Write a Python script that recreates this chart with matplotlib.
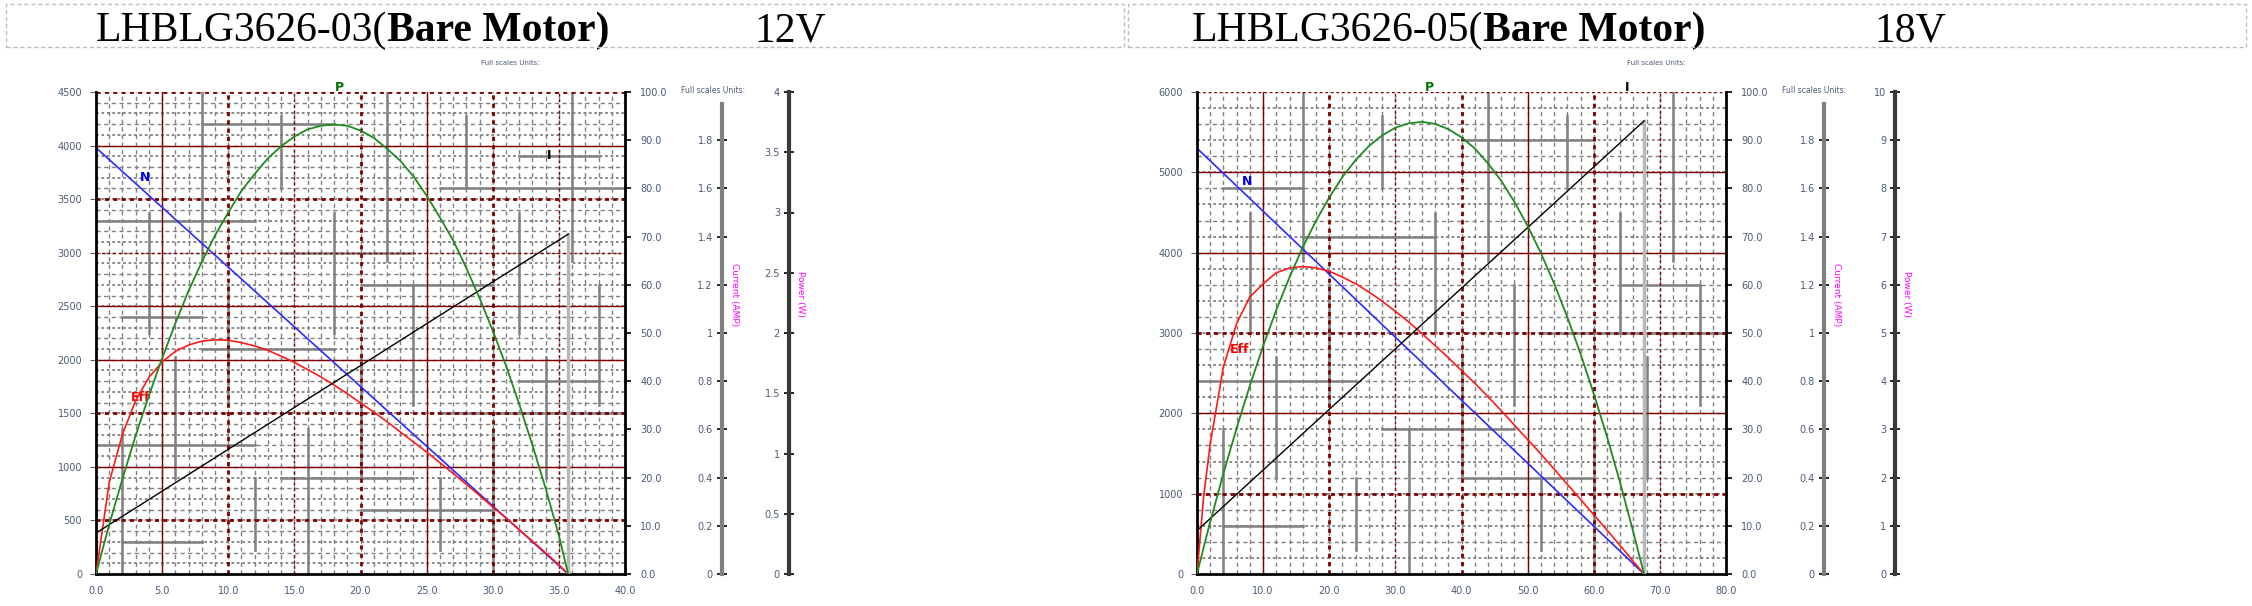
import matplotlib
matplotlib.use("Agg")
import matplotlib.pyplot as plt
import numpy as np
from matplotlib.patches import Rectangle
from matplotlib.ticker import FormatStrFormatter, FuncFormatter

W, H = 2252, 606

# LHBLG3626-03, 12 V  (torque in mN.m)
TORQUE_12 = [0, 1, 2, 3, 4, 5, 6, 7, 8, 9, 10, 11, 12, 13, 14, 15, 16, 17, 18, 19, 20,
             21, 22, 23, 24, 25, 26, 27, 28, 29, 30, 31, 32, 33, 34, 35, 35.7]
POWER_12 = [0, 0.41, 0.79, 1.15, 1.48, 1.79, 2.08, 2.35, 2.59, 2.81, 3.00, 3.18, 3.32, 3.45,
            3.55, 3.63, 3.69, 3.72, 3.73, 3.72, 3.68, 3.62, 3.53, 3.43, 3.30, 3.14, 2.96,
            2.77, 2.54, 2.29, 2.02, 1.73, 1.41, 1.07, 0.71, 0.32, 0]
EFF_12 = [0, 19, 29, 36, 40.8, 44, 46.2, 47.5, 48.3, 48.6, 48.5, 48.0, 47.3, 46.4, 45.2, 43.9,
          42.4, 40.9, 39.2, 37.4, 35.5, 33.6, 31.6, 29.5, 27.4, 25.3, 23.1, 20.9, 18.6, 16.3,
          13.9, 11.6, 9.2, 6.8, 4.4, 1.9, 0]
LINE_TORQUE_12 = [0, 35.7]
SPEED_12 = [3980, 0]
CURRENT_12 = [0.17, 1.41]

# LHBLG3626-05, 18 V
TORQUE_18 = [0, 1, 2, 4, 6, 8, 10, 12, 14, 16, 18, 20, 22, 24, 26, 28, 30, 32, 34, 36, 38,
             40, 42, 44, 46, 48, 50, 52, 54, 56, 58, 60, 62, 64, 66, 67.6]
POWER_18 = [0, 0.55, 1.08, 2.09, 3.03, 3.91, 4.73, 5.48, 6.16, 6.78, 7.33, 7.81, 8.24, 8.59,
            8.88, 9.10, 9.26, 9.35, 9.38, 9.34, 9.23, 9.06, 8.83, 8.52, 8.16, 7.72, 7.22,
            6.66, 6.03, 5.33, 4.57, 3.74, 2.85, 1.89, 0.86, 0]
EFF_18 = [0, 16, 27, 43, 52, 57.5, 60.2, 62.5, 63.5, 63.8, 63.5, 62.8, 61.6, 60.2, 58.5, 56.6,
          54.5, 52.3, 49.9, 47.4, 44.9, 42.2, 39.6, 36.8, 33.9, 30.9, 27.9, 24.9, 21.8, 18.6,
          15.5, 12.3, 9.1, 5.9, 2.6, 0]
LINE_TORQUE_18 = [0, 67.6]
SPEED_18 = [5300, 0]
CURRENT_18 = [0.18, 1.88]

LBL = "#4a5a78"
GRID_MINOR = "#808080"
GRID_MAJOR = "#800000"

# short solid grey strokes that give the grid its plaid look
SPANS = [(0.0, 0.3), (0.5, 0.75), (0.2, 0.45), (0.65, 1.0), (0.35, 0.6), (0.05, 0.2), (0.8, 0.95)]
MAJOR_STYLES = [(2.0, (0, (1.5, 1.5))), (1.0, "-"), (2.0, (0, (1.5, 1.5))), (1.0, (0, (2, 2)))]


def fx(p):
    return p / W


def fy(p):
    return 1 - p / H


def title_box(fig, ax, x0, x1, model, volts, tx, vx):
    fig.patches.append(Rectangle((fx(x0), fy(47)), fx(x1 - x0), 43 / H, transform=fig.transFigure,
                                 fill=False, ec="#bdbdbd", lw=1.0, ls=(0, (3, 2))))
    t1 = fig.text(fx(tx), fy(50), model + "(", family="Liberation Serif", fontsize=30,
                  va="bottom", ha="left")
    ax.annotate("Bare Motor)", xy=(1, 0), xycoords=t1, va="bottom", ha="left",
                family="Liberation Serif", fontsize=30, fontweight="bold", annotation_clip=False)
    fig.text(fx(vx), fy(50), volts, family="Liberation Serif", fontsize=30, va="bottom", ha="left")


def draw_grid(ax, xmax, xmaj, xmin, nmax, nmaj, nmin):
    xs = np.arange(xmin, xmax, xmin)
    ys = np.arange(nmin, nmax, nmin)
    for i, x in enumerate(xs):
        ax.axvline(x, color=GRID_MINOR, lw=1.0, ls=(0, (3, 2.5)), zorder=0.4)
        if i % 2:
            a, b = SPANS[(i // 2) % len(SPANS)]
            ax.axvline(x, ymin=a, ymax=b, color=GRID_MINOR, lw=1.8, zorder=0.45)
    for i, y in enumerate(ys):
        if i % 2:
            ax.axhline(y, color=GRID_MINOR, lw=1.0, ls=(0, (3, 2.5)), zorder=0.4)
        else:
            ax.axhline(y, color=GRID_MINOR, lw=1.3, ls=(0, (1.5, 1.5)), zorder=0.4)
        if i % 3 == 2:
            a, b = SPANS[(i + 3) % len(SPANS)]
            ax.axhline(y, xmin=a, xmax=b, color=GRID_MINOR, lw=1.8, zorder=0.45)
    for i, x in enumerate(np.arange(xmaj, xmax, xmaj)):
        lw, ls = MAJOR_STYLES[(i + 1) % 4]
        ax.axvline(x, color=GRID_MAJOR, lw=lw, ls=ls, zorder=0.5)
    for i, y in enumerate(np.arange(nmaj, nmax + nmaj / 2, nmaj)):
        lw, ls = MAJOR_STYLES[(i * 3) % 4] if i % 3 != 1 else MAJOR_STYLES[1]
        ax.axhline(y, color=GRID_MAJOR, lw=lw, ls=ls, zorder=0.5)


def draw_motor(fig, x0, torque, power, eff, line_torque, speed, current,
               xmax, xmaj, xmin, nmax, nmaj, nmin, pmax, pstep, cur_off, pw_off, labels, units_top):
    ax = fig.add_axes([fx(x0), fy(574), fx(529), 482 / H])
    ax.set_xlim(0, xmax)
    ax.set_ylim(0, nmax)
    ax.set_xticks(np.arange(0, xmax + xmaj / 2, xmaj))
    ax.set_yticks(np.arange(0, nmax + nmaj / 2, nmaj))
    draw_grid(ax, xmax, xmaj, xmin, nmax, nmaj, nmin)
    ax.xaxis.set_major_formatter(FormatStrFormatter("%.1f"))
    ax.tick_params(axis="x", length=0, labelsize=7, labelcolor=LBL, pad=9)
    ax.tick_params(axis="y", direction="out", length=4, color="#606060",
                   labelsize=7, labelcolor=LBL, pad=6)
    for s in ("top", "right"):
        ax.spines[s].set_visible(False)
    for s in ("left", "bottom"):
        ax.spines[s].set_linewidth(2)
        ax.spines[s].set_color("black")

    # percent axis (efficiency)
    pct = ax.twinx()
    for s in pct.spines.values():
        s.set_visible(False)
    pct.spines["right"].set_visible(True)
    pct.spines["right"].set_linewidth(2)
    pct.set_ylim(0, 100)
    pct.set_yticks(np.arange(0, 101, 10))
    pct.yaxis.set_major_formatter(FormatStrFormatter("%.1f"))
    pct.tick_params(axis="y", direction="out", length=4, width=1.2, labelsize=7,
                    labelcolor=LBL, pad=7)

    # current axis
    cur = ax.twinx()
    for s in cur.spines.values():
        s.set_visible(False)
    sp = cur.spines["left"]
    sp.set_visible(True)
    sp.set_position(("axes", cur_off))
    sp.set_color("#808080")
    sp.set_linewidth(3)
    sp.set_bounds(0, 1.95)
    cur.yaxis.set_ticks_position("left")
    cur.set_ylim(0, 2)
    cur.set_yticks(np.arange(0, 1.81, 0.2))
    cur.yaxis.set_major_formatter(FuncFormatter(lambda v, _: f"{v:g}"))
    cur.tick_params(axis="y", direction="inout", length=7, width=1.2, color="black",
                    labelsize=7, labelcolor=LBL, pad=3)

    # power axis
    pw = ax.twinx()
    for s in pw.spines.values():
        s.set_visible(False)
    sp = pw.spines["left"]
    sp.set_visible(True)
    sp.set_position(("axes", pw_off))
    sp.set_color("#3a3a3a")
    sp.set_linewidth(3)
    pw.yaxis.set_ticks_position("left")
    pw.set_ylim(0, pmax)
    pw.set_yticks(np.arange(0, pmax + pstep / 2, pstep))
    pw.yaxis.set_major_formatter(FuncFormatter(lambda v, _: f"{v:g}"))
    pw.tick_params(axis="y", direction="inout", length=7, width=1.2, color="black",
                   labelsize=7, labelcolor=LBL, pad=3)

    # curves
    ax.plot(line_torque, speed, color="#2b2bff", lw=1.2)
    cur.plot(line_torque, current, color="black", lw=1.0)
    cur.plot([line_torque[-1]] * 2, [0, current[-1]], color="#b8b8b8", lw=2.5, zorder=1)
    pw.plot(torque, power, color="#1f8a1f", lw=1.3)
    pct.plot(torque, eff, color="#ff1a1a", lw=1.2)

    colors = {"N": "#0000ee", "P": "#007000", "I": "black", "Eff": "#ff0000"}
    for name, (tx, ty) in labels.items():
        ax.text(tx, ty, name, color=colors[name], fontsize=9, fontweight="bold",
                ha="center", va="center", clip_on=False)

    # axis titles
    ax.text(cur_off + 0.024, 0.58, "Current (AMP)", transform=ax.transAxes, rotation=-90,
            color="#ff00ff", fontsize=6.5, ha="center", va="center")
    ax.text(pw_off + 0.021, 0.58, "Power (W)", transform=ax.transAxes, rotation=-90,
            color="#ff00ff", fontsize=6.5, ha="center", va="center")
    ax.text(1.166, 1.004, "Full scales Units:", transform=ax.transAxes, color=LBL,
            fontsize=5.5, ha="center", va="center")
    ax.text(units_top, 1.06, "Full scales Units:", transform=ax.transAxes, color=LBL,
            fontsize=5, ha="center", va="center")
    return ax


fig = plt.figure(figsize=(W / 100, H / 100), dpi=100)

ax_l = draw_motor(fig, 96, TORQUE_12, POWER_12, EFF_12, LINE_TORQUE_12, SPEED_12, CURRENT_12,
                  40, 5, 1, 4500, 500, 100, 4, 0.5, 1.183, 1.31,
                  {"N": (3.7, 3700), "P": (18.4, 4540), "I": (34.3, 3910), "Eff": (3.4, 1645)},
                  0.783)
ax_r = draw_motor(fig, 1197, TORQUE_18, POWER_18, EFF_18, LINE_TORQUE_18, SPEED_18, CURRENT_18,
                  80, 10, 2, 6000, 1000, 200, 10, 1, 1.185, 1.32,
                  {"N": (7.6, 4890), "P": (35.1, 6050), "I": (65.0, 6050), "Eff": (6.4, 2800)},
                  0.868)

title_box(fig, ax_l, 6, 1124, "LHBLG3626-03", "12V", 96, 754)
title_box(fig, ax_r, 1128, 2246, "LHBLG3626-05", "18V", 1192, 1874)

fig.savefig("out.png", dpi=100)
